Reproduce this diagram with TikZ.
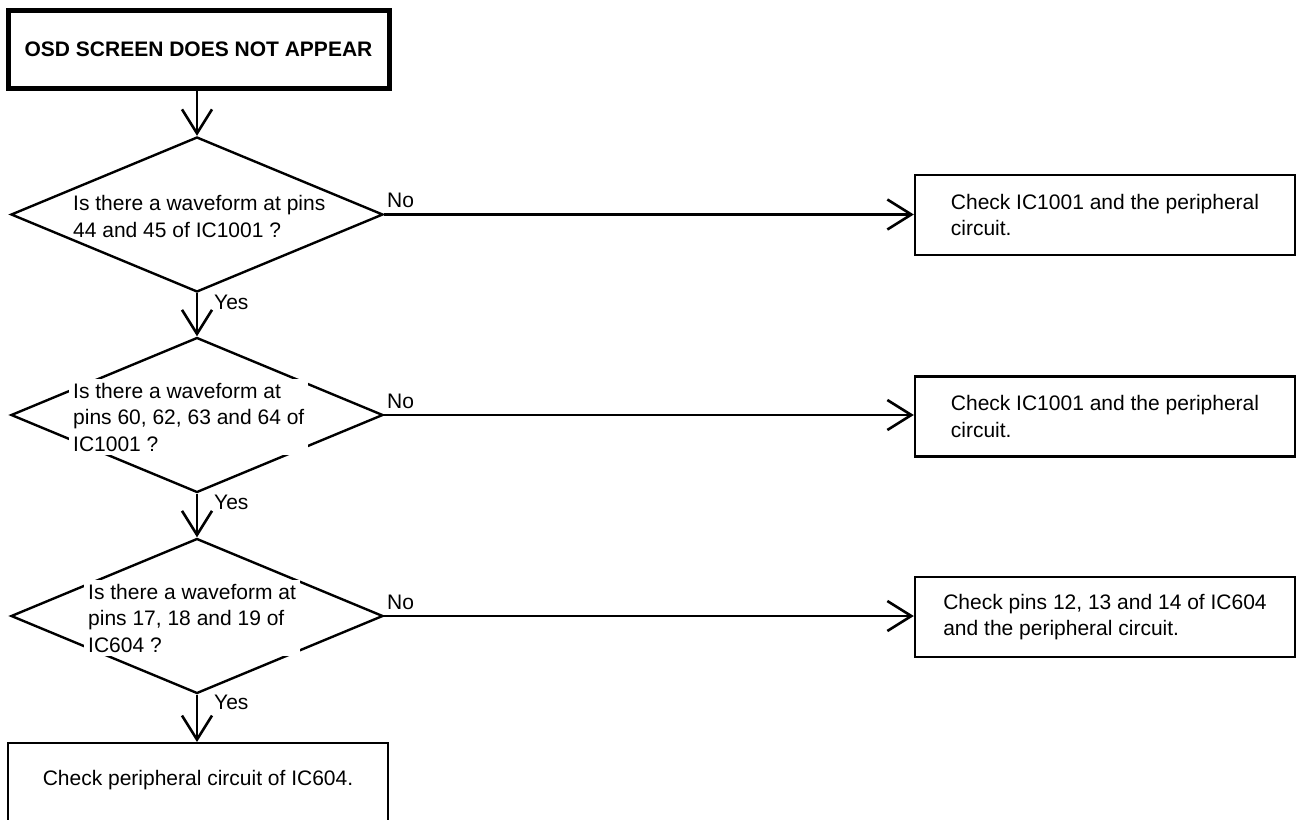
\documentclass[tikz,border=0pt]{standalone}
\usepackage{fontspec}
\setmainfont{Liberation Sans}
\usetikzlibrary{shapes.geometric,arrows.meta}
\begin{document}
\begin{tikzpicture}[x=1pt,y=-1pt,
  txt/.style={font=\fontsize{21pt}{26.5pt}\selectfont},
  titlebox/.style={draw,line width=5pt,minimum width=381pt,minimum height=78pt,inner sep=0pt,font=\fontsize{21pt}{26.5pt}\selectfont\bfseries},
  dia/.style={draw,diamond,minimum width=372pt,minimum height=155pt,inner sep=0pt,line width=2.4pt},
  qtext/.style={txt,align=left,anchor=west,inner sep=4pt},
  rbox/.style={draw,line width=2.4pt,minimum width=380pt,minimum height=80pt,inner sep=0pt,align=left,txt},
  flow/.style={line width=2.6pt,-{Straight Barb[length=24pt,width=30pt,line width=2.6pt]}},
  lab/.style={txt,inner sep=0pt,anchor=base west}]
\useasboundingbox (0,0) rectangle (1300,819);

% title
\node[titlebox] (t) at (198.5,49) {OSD SCREEN DOES NOT APPEAR};

% diamonds
\node[dia] (d1) at (197,214.5) {};
\node[dia] (d2) at (197,415) {};
\node[dia] (d3) at (197,616) {};

\node[qtext] (q1) at (69,216.5) {Is there a waveform at pins\\44 and 45 of IC1001 ?};
\node[qtext,fill=white] (q2) at (69,417) {Is there a waveform at\\pins 60, 62, 63 and 64 of\\IC1001 ?};
\node[qtext,fill=white] (q3) at (84,618) {Is there a waveform at\\pins 17, 18 and 19 of\\IC604 ?};

% right boxes
\node[rbox] (b1) at (1105,215) {Check IC1001 and the peripheral\\circuit.};
\node[rbox] (b2) at (1105,416.5) {Check IC1001 and the peripheral\\circuit.};
\node[rbox] (b3) at (1105,617) {Check pins 12, 13 and 14 of IC604\\and the peripheral circuit.};

% bottom box
\node[draw,line width=2.4pt,minimum width=380pt,minimum height=110pt,inner sep=0pt,anchor=north] (bb) at (198,742) {};
\node[txt,inner sep=0pt] (bbt) at (198,780) {Check peripheral circuit of IC604.};

% connectors
\draw[flow] (t.south -| d1.north) -- (d1.north);
\draw[flow] (d1.south) -- (d2.north);
\draw[flow] (d2.south) -- (d3.north);
\draw[flow] (d3.south) -- (d3.south |- bb.north);

\draw[flow] (d1.east) -- (d1.east -| b1.west);
\draw[flow] (d2.east) -- (d2.east -| b2.west);
\draw[flow] (d3.east) -- (d3.east -| b3.west);

% labels
\node[lab] (n1) at (387,207) {No};
\node[lab] (n2) at (387,408) {No};
\node[lab] (n3) at (387,609) {No};
\node[lab] (y1) at (214,309) {Yes};
\node[lab] (y2) at (214,509) {Yes};
\node[lab] (y3) at (214,709) {Yes};
\end{tikzpicture}
\end{document}
